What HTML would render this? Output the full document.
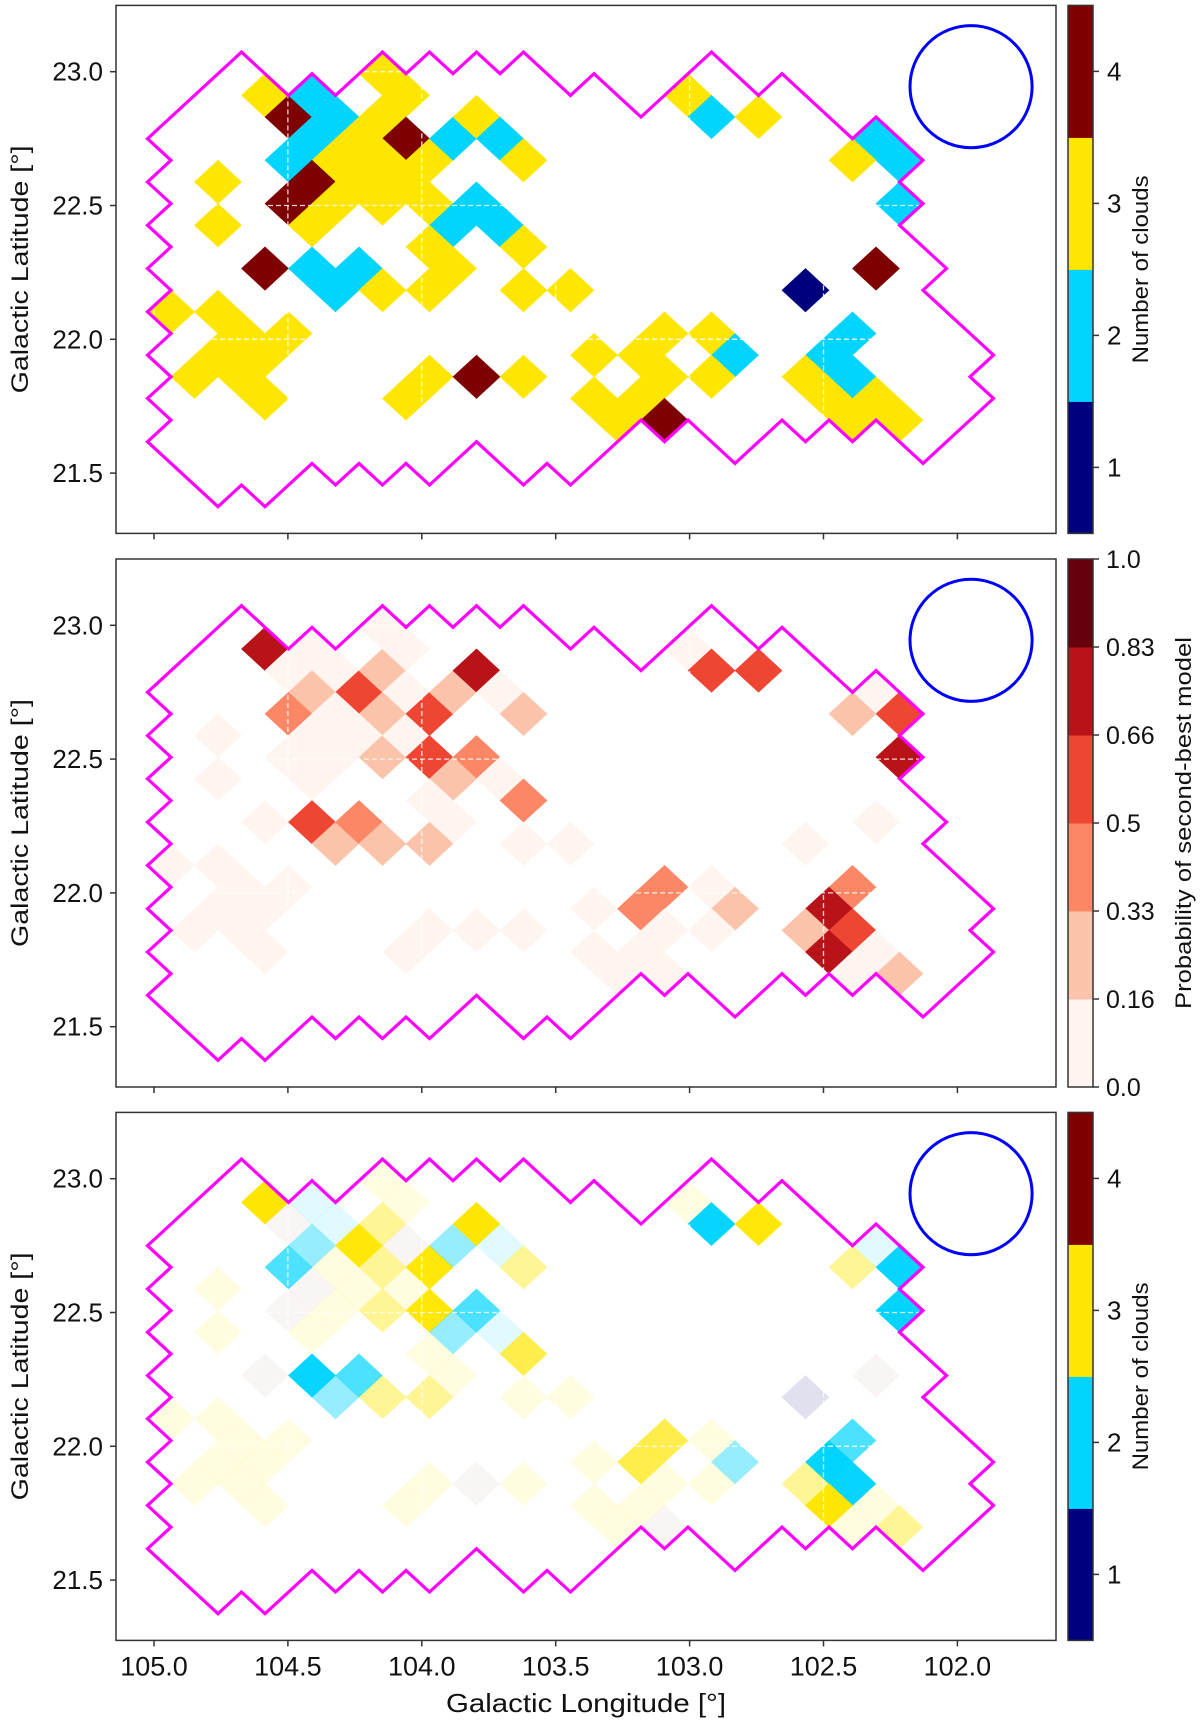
<!DOCTYPE html>
<html><head><meta charset="utf-8"><style>
html,body{margin:0;padding:0;background:#fff;}
svg{display:block;font-family:"Liberation Sans","DejaVu Sans",sans-serif;}
</style></head><body>
<svg id="fig" width="1200" height="1728" viewBox="0 0 1200 1728" xmlns="http://www.w3.org/2000/svg"></svg>
<script>
// ---- data ----
const cellCol = [2,3,4,5,4,3,7,6,5,7,8,8,7,6,4,3,5,4,7,8,9,9,11,10,12,10,11,12,13,0,0,2,4,5,6,7,9,10,9,-2,0,1,3,2,0,-1,1,2,9,8,11,13,13,13,15,16,19,18,19,18,17,16,19,21,22,21,27,26,27,25,26,28,27,29,20,21,23,25,28,28,29,27,29];
const cellRow = [-4,-3,-4,-3,-2,-1,-5,-2,-1,-3,-4,-2,-1,0,0,1,1,2,1,0,-1,1,1,2,2,-2,-3,-2,-1,0,2,4,4,5,4,5,3,4,5,6,6,7,7,8,8,9,9,10,9,10,9,9,3,5,5,8,7,8,9,10,11,10,11,7,8,9,7,8,9,9,10,10,11,11,-4,-3,-3,5,4,-2,-1,-1,1];
const nClouds = [3,4,2,2,2,2,3,3,3,3,3,4,3,3,4,4,3,3,3,3,3,3,2,2,2,2,3,2,3,3,3,4,2,2,2,3,3,3,3,3,3,3,3,3,3,3,3,3,3,3,4,3,3,3,3,3,3,3,3,3,3,3,4,3,2,3,2,2,2,3,3,3,3,3,3,2,3,1,4,2,2,3,2];
const prob2nd = [0.75,0.08,0.08,0.08,0.25,0.42,0.08,0.58,0.08,0.25,0.08,0.08,0.25,0.08,0.08,0.08,0.08,0.08,0.25,0.08,0.58,0.58,0.42,0.25,0.08,0.25,0.75,0.08,0.25,0.08,0.08,0.08,0.58,0.25,0.42,0.25,0.08,0.08,0.25,0.08,0.08,0.08,0.08,0.08,0.08,0.08,0.08,0.08,0.08,0.08,0.08,0.08,0.42,0.08,0.08,0.08,0.42,0.42,0.08,0.08,0.08,0.08,0.08,0.08,0.25,0.08,0.42,0.75,0.58,0.25,0.75,0.08,0.08,0.25,0.08,0.58,0.58,0.08,0.08,0.08,0.58,0.25,0.75];
const outlineCol = [1,3,4,5,7,8,9,10,11,12,13,15,16,18,21,23,24,27,28,30,29,30,29,31,30,33,32,33,30,28,27,26,25,24,22,20,19,18,15,14,13,11,9,8,7,6,5,4,2,1,0,-3,-2,-3,-2,-3,-2,-3,-2,-3,-2,-3,-2,-3,-2,-3];
const outlineRow = [-6,-4,-5,-4,-6,-5,-6,-5,-6,-5,-6,-4,-5,-3,-6,-4,-5,-2,-3,-1,0,1,2,4,5,8,9,10,13,11,12,11,12,11,13,11,12,11,14,13,14,12,14,13,14,13,14,13,15,14,15,12,11,10,9,8,7,6,5,4,3,2,1,0,-1,-2];
const lonTicks = [105.0,104.5,104.0,103.5,103.0,102.5,102.0];
const latTicks = [23.0,22.5,22.0,21.5];
const cloudTicks = [1,2,3,4];
const probTicks = ["0.0","0.16","0.33","0.5","0.66","0.83","1.0"];
const beamLon = 101.949, beamLat = 22.944, beamRadius = 0.228;

// ---- grid & axes ----
const LON0 = 104.761, DLON = 0.08775, LAT0 = 22.588, DLAT = 0.0809;
function cellLon(c){ return LON0 - DLON*c; }
function cellLat(r){ return LAT0 - DLAT*r; }
const panelTop = [5.4, 559, 1112.4];
const PH = 528, AX_L = 116, AX_R = 1056;
function xs(lon){ return 154 + (105 - lon)*267.8; }
function ys(lat, p){ return panelTop[p] + 66.3 + (23 - lat)*267.6; }

const cloudColors = {1:'#00007f',2:'#00d4ff',3:'#ffe600',4:'#7f0000'};
const probColors = ['#fff5f0','#fcc3ab','#fb8767','#ef4533','#b71319','#67000d'];
function probColor(p){ return probColors[Math.min(5, Math.floor(p*6))]; }
function blendAlpha(p){ return p < 0.16 ? 0.12 : Math.min(1, p/0.6); }

const NS = 'http://www.w3.org/2000/svg';
const svg = document.getElementById('fig');
function mk(tag, attrs, parent){
  const e = document.createElementNS(NS, tag);
  for (const k in attrs) e.setAttribute(k, attrs[k]);
  (parent||svg).appendChild(e);
  return e;
}
const defs = mk('defs', {});

for (let p = 0; p < 3; p++){
  const top = panelTop[p];
  const clip = mk('clipPath', {id:'clip'+p}, defs);
  mk('rect', {x:AX_L, y:top, width:AX_R-AX_L, height:PH}, clip);
  const g = mk('g', {'clip-path':'url(#clip'+p+')'});
  
  
  for (let k = 0; k < cellCol.length; k++){
    const cx = xs(cellLon(cellCol[k])), cy = ys(cellLat(cellRow[k]), p);
    const hx = xs(cellLon(cellCol[k]) - DLON) - cx, hy = ys(cellLat(cellRow[k]) - DLAT, p) - cy;
    let fill, op = 1;
    if (p === 0) fill = cloudColors[nClouds[k]];
    else if (p === 1) fill = probColor(prob2nd[k]);
    else {
      fill = cloudColors[nClouds[k]];
      op = blendAlpha(prob2nd[k]);
      if (nClouds[k] === 4 && prob2nd[k] < 0.16) op = 0.04;
    }
    const d = 'M'+(cx-hx-0.4)+','+cy+' L'+cx+','+(cy-hy-0.4)+' L'+(cx+hx+0.4)+','+cy+' L'+cx+','+(cy+hy+0.4)+' Z';
    const cell = mk('path', {d:d, fill:fill, 'fill-opacity':op}, g);
    
    
  }
  for (const lon of lonTicks){
    const ln = mk('line', {x1:xs(lon), x2:xs(lon), y1:top, y2:top+PH, stroke:'#fff', 'stroke-width':1.3, 'stroke-dasharray':'5,3', opacity:0.85}, g);
    
    
  }
  for (const lat of latTicks){
    const ln = mk('line', {x1:AX_L, x2:AX_R, y1:ys(lat,p), y2:ys(lat,p), stroke:'#fff', 'stroke-width':1.3, 'stroke-dasharray':'5,3', opacity:0.85}, g);
    
    
  }
  let pts = '';
  for (let k = 0; k < outlineCol.length; k++){
    pts += xs(cellLon(outlineCol[k])).toFixed(1)+','+ys(cellLat(outlineRow[k]), p).toFixed(1)+' ';
  }
  const ol = mk('polygon', {points:pts, fill:'none', stroke:'#ff00ff', 'stroke-width':3.2, 'stroke-linejoin':'miter'}, g);
  
  
  const bx = xs(beamLon), by = ys(beamLat, p);
  const br = xs(beamLon - beamRadius) - bx;
  const bc = mk('circle', {cx:bx, cy:by, r:br, fill:'none', stroke:'#0000ff', 'stroke-width':3}, g);
  
  
  const fr = mk('rect', {x:AX_L, y:top, width:AX_R-AX_L, height:PH, fill:'none', stroke:'#333', 'stroke-width':1.5});
  
  
  for (const lat of latTicks){
    const y = ys(lat, p);
    const t = mk('line', {x1:AX_L-6, x2:AX_L, y1:y, y2:y, stroke:'#333', 'stroke-width':1.5});
    
    
    const tl = mk('text', {x:103, y:y+9, 'text-anchor':'end', 'font-size':26, fill:'#111'});
    tl.textContent = lat.toFixed(1);
    
    
  }
  for (const lon of lonTicks){
    const x = xs(lon);
    const t = mk('line', {x1:x, x2:x, y1:top+PH, y2:top+PH+6, stroke:'#333', 'stroke-width':1.5});
    
    
    if (p === 2){
      const tl = mk('text', {x:x, y:top+PH+35, 'text-anchor':'middle', 'font-size':27, fill:'#111'});
      tl.textContent = lon.toFixed(1);
      
      
    }
  }
  const yl = mk('text', {x:0, y:0, 'text-anchor':'middle', 'font-size':24, fill:'#111', transform:'translate(28,'+(top+PH/2)+') rotate(-90)', textLength:248, lengthAdjust:'spacingAndGlyphs'});
  yl.textContent = 'Galactic Latitude [°]';
  
  

  const CBX = 1068, CBW = 25;
  const cb = mk('g', {});
  
  
  if (p !== 1){
    const nb = cloudTicks.length, bh = PH/nb;
    for (let b = 0; b < nb; b++){
      const v = cloudTicks[b];
      const yTop = top + PH - (b+1)*bh;
      const r = mk('rect', {x:CBX, y:yTop, width:CBW, height:bh+0.5, fill:cloudColors[v]}, cb);
      
      
      const cy = yTop + bh/2;
      mk('line', {x1:CBX+CBW, x2:CBX+CBW+6, y1:cy, y2:cy, stroke:'#333', 'stroke-width':1.5}, cb);
      const tl = mk('text', {x:CBX+39, y:cy+9, 'font-size':26, fill:'#111'}, cb);
      tl.textContent = String(v);
      
      
    }
    const lab = mk('text', {x:0, y:0, 'text-anchor':'middle', 'font-size':22, fill:'#111', transform:'translate(1148,'+(top+PH/2)+') rotate(-90)', textLength:188, lengthAdjust:'spacingAndGlyphs'}, cb);
    lab.textContent = 'Number of clouds';
    
    
  } else {
    const nb = probColors.length, bh = PH/nb;
    for (let b = 0; b < nb; b++){
      const yTop = top + PH - (b+1)*bh;
      const r = mk('rect', {x:CBX, y:yTop, width:CBW, height:bh+0.5, fill:probColors[b]}, cb);
      
      
    }
    for (let t = 0; t < probTicks.length; t++){
      const y = top + PH - t*bh;
      mk('line', {x1:CBX+CBW, x2:CBX+CBW+6, y1:y, y2:y, stroke:'#333', 'stroke-width':1.5}, cb);
      const tl = mk('text', {x:CBX+38, y:y+9, 'font-size':25, fill:'#111'}, cb);
      tl.textContent = probTicks[t];
      
      
    }
    const lab = mk('text', {x:0, y:0, 'text-anchor':'middle', 'font-size':22, fill:'#111', transform:'translate(1191,'+(top+PH/2)+') rotate(-90)', textLength:372, lengthAdjust:'spacingAndGlyphs'}, cb);
    lab.textContent = 'Probability of second-best model';
    
    
  }
  const cbf = mk('rect', {x:CBX, y:top, width:CBW, height:PH, fill:'none', stroke:'#333', 'stroke-width':1.5}, cb);
  
  
}
const xl = mk('text', {x:586, y:1712, 'text-anchor':'middle', 'font-size':26, fill:'#111', textLength:280, lengthAdjust:'spacingAndGlyphs'});
xl.textContent = 'Galactic Longitude [°]';


</script>
</body></html>
